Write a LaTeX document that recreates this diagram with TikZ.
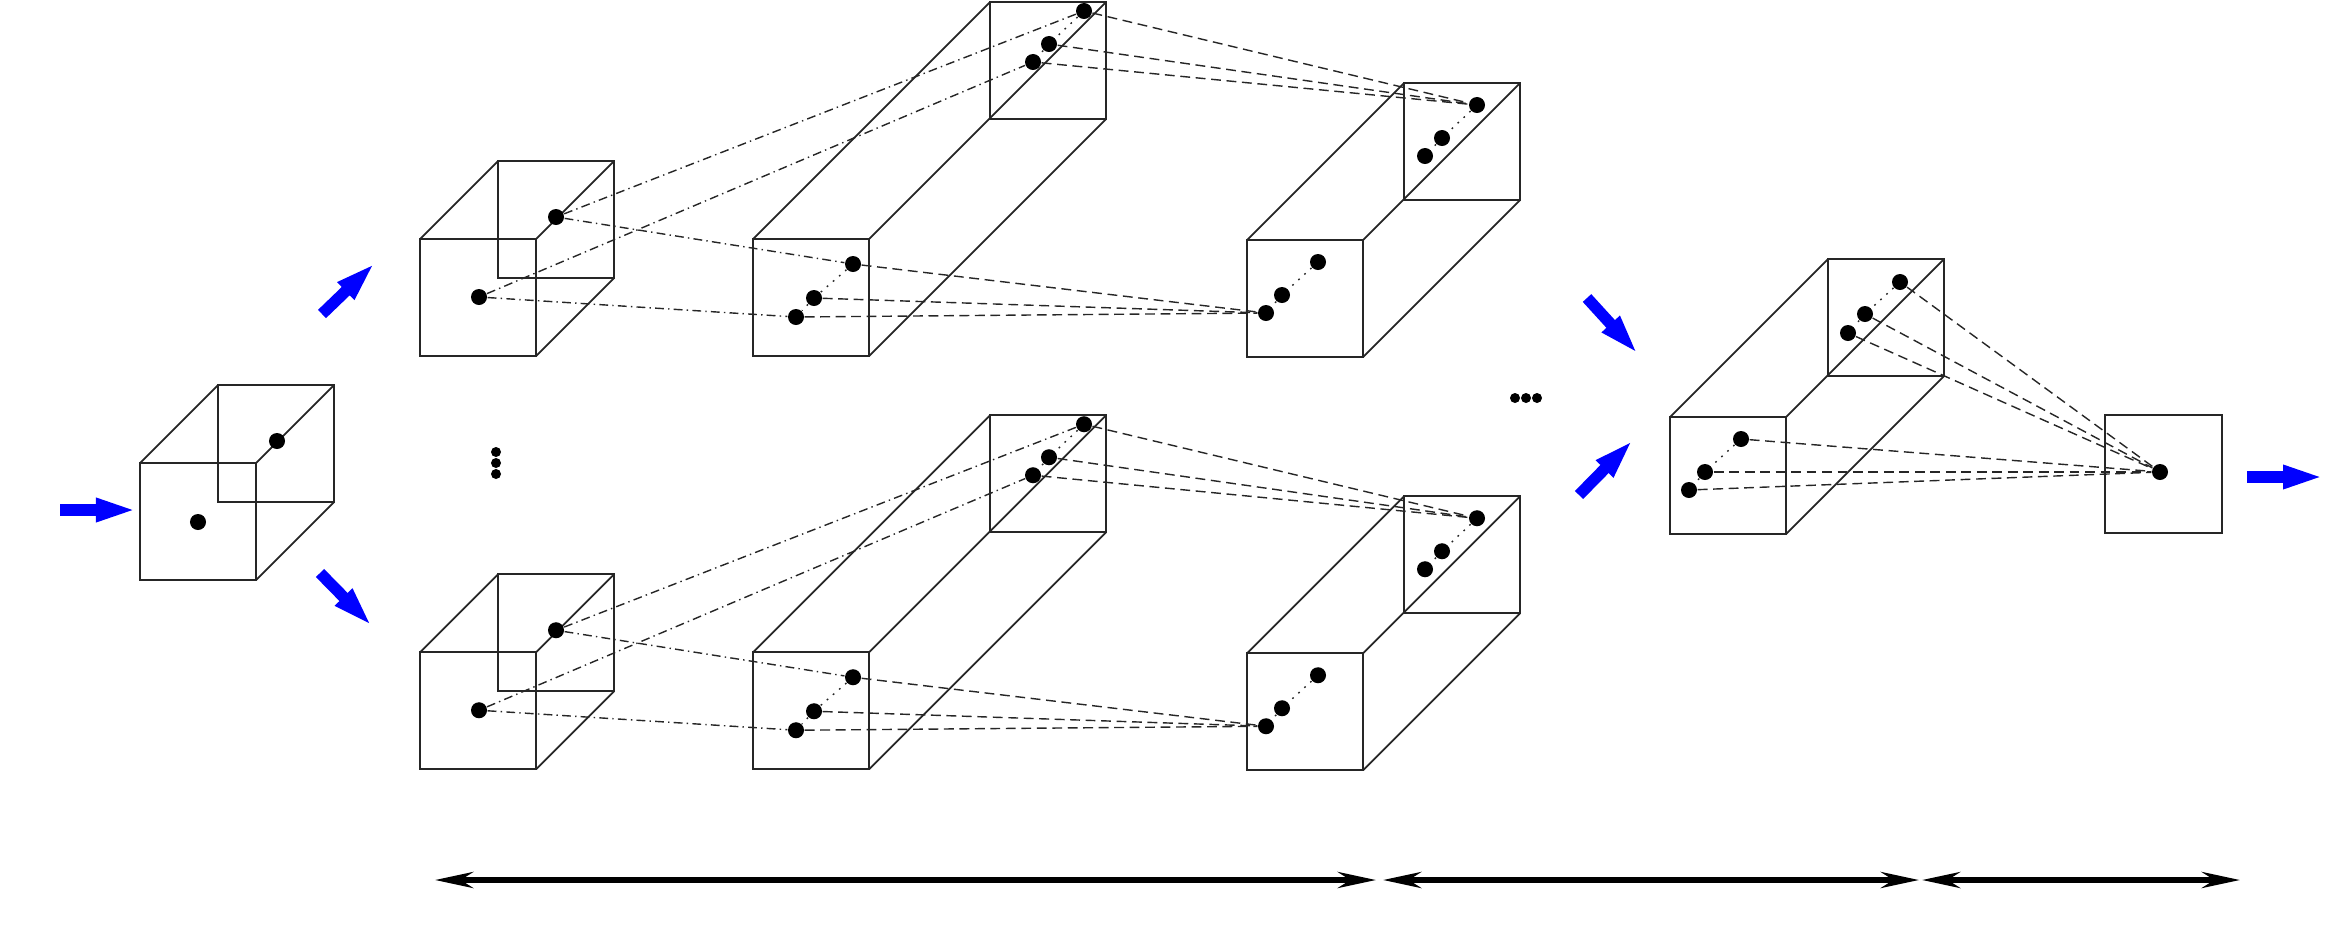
\documentclass[tikz,border=0pt]{standalone}
\usepackage{tikz}
\usetikzlibrary{arrows.meta}
\tikzset{
  box1/.style = {
    draw = black!85,
    line width = 0.5pt,
  }
}
\tikzset{
  dot1/.style = {
    shape = circle,
    fill = black,
    inner sep = 0pt,
    minimum size = 0.16cm,
  }
}
\tikzset{
  link1/.style = {draw = black!85, line width = 0.4pt, dash pattern = on 2.5pt off 1.2pt on 0.4pt off 1.2pt},
  link2/.style = {draw = black!85, line width = 0.4pt, dash pattern = on 2.8pt off 1.6pt},
  link3/.style = {draw = black!85, line width = 0.4pt, dash pattern = on 0.5pt off 1.8pt},
}
\tikzset{
  arrow1/.style = {
    draw = blue, line width = 0.115cm, -{Triangle[length = 4.2mm, width = 2.1mm]},
  },
  arrow2/.style = {
    draw = black, line width = 0.055cm, {Stealth[length = 3.8mm, width = 1.6mm]}-{Stealth[length = 3.8mm, width = 1.6mm]},
  }
}
% front face at (#1,#2), depth #3
\newcommand{\drawbox}[3]{
  \draw[box1] (#1,#2) rectangle ++(116,117);
  \draw[box1] (#1+#3,#2-#3) rectangle ++(116,117);
  \draw[box1] (#1,#2) -- ++(#3,-#3);
  \draw[box1] (#1+116,#2) -- ++(#3,-#3);
  \draw[box1] (#1+116,#2+117) -- ++(#3,-#3);
}

\begin{document}
\begin{tikzpicture}[x = 0.01cm, y = -0.01cm]
  \useasboundingbox (0,0) rectangle (2336,936);

  % input
  \drawbox{140}{463}{78}
  \node[dot1] (i1) at (198,522) {};
  \node[dot1] (i2) at (277,441) {};

  \foreach \r/\s in {u/0, l/-4.13}{
    \begin{scope}[yshift = \s cm]
      \drawbox{420}{239}{78}
      \drawbox{753}{239}{237}
      \drawbox{1247}{240}{157}
      \node[dot1] (a1\r) at (479,297) {};
      \node[dot1] (a2\r) at (556,217) {};
      \node[dot1] (b1\r) at (853,264) {};
      \node[dot1] (b2\r) at (814,298) {};
      \node[dot1] (b3\r) at (796,317) {};
      \node[dot1] (b4\r) at (1084,11) {};
      \node[dot1] (b5\r) at (1049,44) {};
      \node[dot1] (b6\r) at (1033,62) {};
      \node[dot1] (c1\r) at (1318,262) {};
      \node[dot1] (c2\r) at (1282,295) {};
      \node[dot1] (c3\r) at (1266,313) {};
      \node[dot1] (c4\r) at (1477,105) {};
      \node[dot1] (c5\r) at (1442,138) {};
      \node[dot1] (c6\r) at (1425,156) {};
      \draw[link1] (a1\r) -- (b3\r);
      \draw[link1] (a1\r) -- (b6\r);
      \draw[link1] (a2\r) -- (b1\r);
      \draw[link1] (a2\r) -- (b4\r);
      \draw[link3] (b1\r) -- (b2\r) -- (b3\r);
      \draw[link3] (b4\r) -- (b5\r) -- (b6\r);
      \draw[link3] (c1\r) -- (c2\r) -- (c3\r);
      \draw[link3] (c4\r) -- (c5\r) -- (c6\r);
      \draw[link2] (b1\r) -- (c3\r);
      \draw[link2] (b2\r) -- (c3\r);
      \draw[link2] (b3\r) -- (c3\r);
      \draw[link2] (b4\r) -- (c4\r);
      \draw[link2] (b5\r) -- (c4\r);
      \draw[link2] (b6\r) -- (c4\r);
    \end{scope}
  }

  % last layers
  \drawbox{1670}{417}{158}
  \draw[box1] (2105,415) rectangle (2222,533);
  \node[dot1] (f1) at (1741,439) {};
  \node[dot1] (f2) at (1705,472) {};
  \node[dot1] (f3) at (1689,490) {};
  \node[dot1] (f4) at (1900,282) {};
  \node[dot1] (f5) at (1865,314) {};
  \node[dot1] (f6) at (1848,333) {};
  \node[dot1] (o1) at (2160,472) {};
  \draw[link3] (f1) -- (f2) -- (f3);
  \draw[link3] (f4) -- (f5) -- (f6);
  \foreach \n in {f1, f2, f3, f4, f5, f6}
    \draw[link2] (\n) -- (o1);

  \foreach \y in {452, 463, 474}
    \fill (496,\y) circle (0.05cm);
  \foreach \x in {1515, 1526, 1537}
    \fill (\x,398) circle (0.05cm);

  \draw[arrow1] (60,510) -- (138,510);
  \draw[arrow1] (322,314) -- (376,262);
  \draw[arrow1] (320,573) -- (373,627);
  \draw[arrow1] (1587,298) -- (1639,355);
  \draw[arrow1] (1579,495) -- (1634,439);
  \draw[arrow1] (2247,477) -- (2325,477);

  \draw[arrow2] (435,880) -- (1376,880);
  \draw[arrow2] (1383,880) -- (1919,880);
  \draw[arrow2] (1922,880) -- (2240,880);
\end{tikzpicture}
\end{document}
